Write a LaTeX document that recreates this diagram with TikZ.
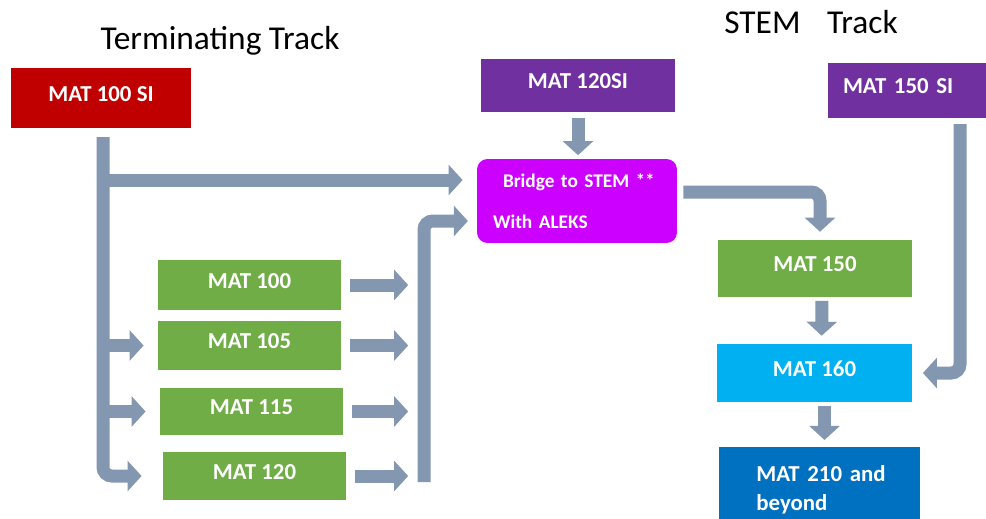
\documentclass[tikz,border=0pt]{standalone}
\usepackage{fontspec}
\setmainfont{Carlito}
\usetikzlibrary{arrows.meta,positioning,calc}
\definecolor{sired}{RGB}{192,0,0}
\definecolor{sipurple}{RGB}{112,48,160}
\definecolor{bridgemag}{RGB}{204,0,255}
\definecolor{coursegreen}{RGB}{112,173,71}
\definecolor{calccyan}{RGB}{0,176,240}
\definecolor{upperblue}{RGB}{0,112,192}
\definecolor{arrowgray}{RGB}{132,151,176}
\tikzset{
  course/.style={draw=none, text=white, font=\bfseries\fontsize{13}{16}\selectfont,
    inner sep=0pt, text depth=5pt},
  conn/.style={draw=arrowgray, line width=7.4pt, rounded corners=5pt,
    -{Triangle[length=8pt,width=17pt]}},
  title/.style={font=\fontsize{19}{23}\selectfont, anchor=base}
}
\begin{document}
\begin{tikzpicture}[x=0.02cm, y=-0.02cm]
    \useasboundingbox (0,0) rectangle (986,518);
    % Titles
    \node[title] (termtitle) at (220,49) {Terminating Track};
    \node[title] (stemtitle) at (811,33) {STEM\hspace{0.8em}Track};
    % Supplemental instruction boxes
    \node[course, fill=sired, minimum width=3.6cm, minimum height=1.2cm] (si100) at (101,98) {MAT 100 SI};
    \node[course, fill=sipurple, minimum width=3.88cm, minimum height=1.06cm] (si120) at (578,85.5) {MAT 120SI};
    \node[course, fill=sipurple, text width=2.84cm, inner xsep=0.3cm, align=left, minimum height=1.1cm] (si150) at (914,90.5) {MAT 150 SI};
    % Bridge
    \node[course, fill=bridgemag, rounded corners=6pt, text width=3.36cm, inner xsep=0.32cm,
          minimum height=1.68cm, align=left, text depth={}, font=\bfseries\fontsize{11}{13}\selectfont]
          (bridge) at (577,201) {\hspace*{5.7pt}Bridge to STEM **\\[10pt]With ALEKS};
    % Terminating courses
    \node[course, fill=coursegreen, minimum width=3.66cm, minimum height=1.0cm] (m100) at (249.5,285) {MAT 100};
    \node[course, fill=coursegreen, minimum width=3.66cm, minimum height=0.98cm] (m105) at (249.5,345.5) {MAT 105};
    \node[course, fill=coursegreen, minimum width=3.66cm, minimum height=0.94cm] (m115) at (251.5,411.5) {MAT 115};
    \node[course, fill=coursegreen, minimum width=3.66cm, minimum height=0.96cm] (m120) at (254.5,476) {MAT 120};
    % STEM courses
    \node[course, fill=coursegreen, minimum width=3.88cm, minimum height=1.14cm] (m150) at (815,268.5) {MAT 150};
    \node[course, fill=calccyan, minimum width=3.9cm, minimum height=1.16cm] (m160) at (814.5,373) {MAT 160};
    \node[course, fill=upperblue, anchor=north, text width=3.0cm, inner xsep=0.51cm, inner ysep=0.28cm,
          align=left, text depth={}, minimum height=1.7cm, font=\bfseries\fontsize{13}{16.5}\selectfont]
          (m210) at (819.5,447) {\hspace*{6.8pt}MAT 210 and\\\hspace*{6.8pt}beyond};
    % Connectors
    \coordinate (trunk) at (103,137);
    \coordinate (rbar) at (424,482);
    \coordinate (sibar) at (960,124);
    \draw[conn, shorten >=12pt] (trunk) |- (m120.west);
    \draw[conn, shorten >=8pt] (trunk |- {$(bridge.west)+(0,-21)$}) -- ($(bridge.west)+(0,-21)$);
    \foreach \c in {m105,m115}
        \draw[conn, shorten >=8pt] (trunk |- \c.west) -- (\c.west);
    \foreach \c in {m100,m105,m115,m120}
        \draw[conn, shorten <=5pt, shorten >=9pt] (\c.east) -- (\c.east -| rbar);
    \draw[conn, shorten >=5pt] (rbar) |- ($(bridge.west)+(0,20)$);
    \draw[conn, shorten <=3pt, shorten >=2pt] (si120.south) -- (si120.south |- bridge.north);
    \draw[conn, shorten >=4.5pt] ($(bridge.east)+(6,-9)$) -| ($(m150.north)+(5,0)$);
    \draw[conn, shorten >=6pt] (sibar) |- (m160.east);
    \draw[conn, shorten <=2pt, shorten >=4.5pt] ($(m150.south)+(7,0)$) -- ($(m160.north)+(7,0)$);
    \draw[conn, shorten <=2pt, shorten >=4pt] ($(m160.south)+(10,0)$) -- ($(m210.north)+(5,0)$);
\end{tikzpicture}
\end{document}
